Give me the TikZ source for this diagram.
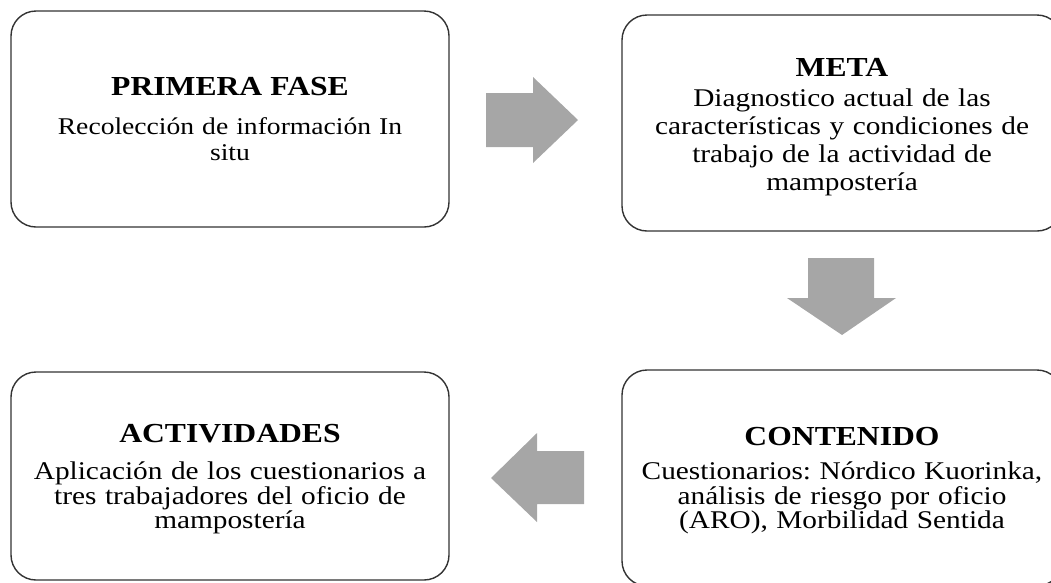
\documentclass[tikz,border=0pt]{standalone}
\usepackage{fontspec}
\setmainfont{Liberation Serif}[FakeStretch=1.15]
\frenchspacing
\newcommand\ttlfont{\fontsize{27.5}{32}\selectfont\bfseries}
\definecolor{boxline}{HTML}{333333}
\definecolor{arrowgray}{HTML}{A6A6A6}
\begin{document}
\begin{tikzpicture}[x=1pt,y=-1pt,
  box/.style={draw=boxline, line width=1.4pt, rounded corners=25pt,
    inner sep=0pt, minimum width=438pt, minimum height=216pt},
  boxtext/.style={align=center, text width=430pt, inner sep=0pt, anchor=north},
  blockarrow/.style={fill=arrowgray, draw=none}]
\useasboundingbox (0,0) rectangle (1051,582);
\clip (0,0) rectangle (1051,582);

\node[box] (tl) at (230,119) {};
\node[box, minimum width=440pt] (tr) at (842,123) {};
\node[box, minimum width=440pt] (br) at (842,478) {};
\node[box, minimum height=208pt] (bl) at (230,476) {};

\node[boxtext, font=\fontsize{24}{26}\selectfont] (tlt) at (230,77)
  {{\ttlfont PRIMERA FASE\par}\vspace{13pt}Recolección de información In\\situ};
\node[boxtext, font=\fontsize{25.5}{28}\selectfont] (trt) at (842,58)
  {{\ttlfont META\par}\vspace{2pt}Diagnostico actual de las\\características y condiciones de\\trabajo de la actividad de\\mampostería};
\node[boxtext, font=\fontsize{25.5}{24.5}\selectfont] (brt) at (842,427)
  {{\ttlfont CONTENIDO\par}\vspace{10pt}Cuestionarios: Nórdico Kuorinka,\\análisis de riesgo por oficio\\(ARO), Morbilidad Sentida};
\node[boxtext, font=\fontsize{25.5}{24.5}\selectfont] (blt) at (230,424)
  {{\ttlfont ACTIVIDADES\par}\vspace{13pt}Aplicación de los cuestionarios a\\tres trabajadores del oficio de\\mampostería};

% block arrows
\path[blockarrow] (486,93) -- (533,93) -- (533,77) -- (578,120) -- (533,163) -- (533,147) -- (486,147) -- cycle;
\path[blockarrow] (808,258) -- (874,258) -- (874,298) -- (896,298) -- (842,335) -- (787,298) -- (808,298) -- cycle;
\path[blockarrow] (584,451) -- (537,451) -- (537,433) -- (491,478) -- (537,522) -- (537,504) -- (584,504) -- cycle;
\end{tikzpicture}
\end{document}
